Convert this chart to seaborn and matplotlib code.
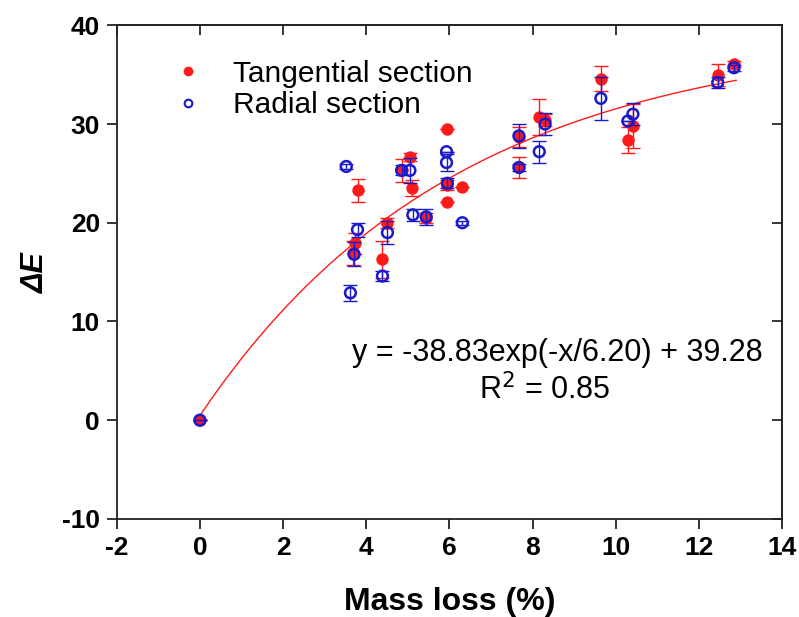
import numpy as np
import pandas as pd
import matplotlib
matplotlib.use("Agg")
import matplotlib.pyplot as plt
import seaborn as sns


# ==============================
# 1. Data
# ==============================

# Tangential section
tan_mass = [0.0, 3.74, 3.69, 3.79, 4.39, 4.51, 4.85, 5.05, 5.10, 5.44,
            5.93, 5.95, 5.95, 6.31, 7.67, 7.67, 8.16, 8.30, 9.64, 10.29,
            10.41, 12.45, 12.84]
tan_dE = [0.0, 17.9, 16.9, 23.3, 16.3, 20.0, 25.3, 26.7, 23.5, 20.5,
          29.5, 23.8, 22.1, 23.6, 28.7, 25.6, 30.7, 30.4, 34.6, 28.4,
          29.8, 35.0, 36.1]
tan_err = [0.0, 1.1, 1.2, 1.15, 1.9, 0.5, 1.2, 0.4, 0.8, 0.5,
           0.0, 0.5, 0.0, 0.0, 1.0, 1.1, 1.8, 0.6, 1.3, 1.3,
           2.2, 1.1, 0.3]

# Radial section
rad_mass = [0.0, 3.52, 3.79, 3.71, 3.62, 4.39, 4.51, 4.85, 5.05, 5.12,
            5.44, 5.93, 5.93, 5.95, 6.31, 7.67, 7.67, 8.16, 8.30, 9.64,
            10.29, 10.41, 12.45, 12.84]
rad_dE = [0.0, 25.7, 19.3, 16.8, 12.9, 14.6, 19.0, 25.3, 25.3, 20.8,
          20.6, 27.2, 26.1, 24.0, 20.0, 28.8, 25.6, 27.2, 30.0, 32.6,
          30.3, 31.0, 34.2, 35.7]
rad_err = [0.0, 0.3, 0.7, 1.2, 0.8, 0.5, 1.2, 0.5, 1.3, 0.6,
           0.8, 0.0, 0.9, 0.5, 0.2, 1.2, 0.4, 1.1, 1.1, 2.2,
           0.0, 1.1, 0.6, 0.3]

# Exponential fit reported on the chart
fit_a, fit_t, fit_c = -38.83, 6.20, 39.28
fit_text = "y = -38.83exp(-x/6.20) + 39.28"
r2_text = "R$^2$ = 0.85"

tan_df = pd.DataFrame({"mass": tan_mass, "dE": tan_dE, "err": tan_err})
rad_df = pd.DataFrame({"mass": rad_mass, "dE": rad_dE, "err": rad_err})

xfit = np.linspace(0, 12.9, 200)
fit_df = pd.DataFrame({"mass": xfit, "dE": fit_a * np.exp(-xfit / fit_t) + fit_c})


# ==============================
# 2. Plot
# ==============================

sns.set_theme(style="ticks")
plt.rcParams["font.family"] = ["Liberation Sans", "DejaVu Sans"]
plt.rcParams["axes.unicode_minus"] = False
plt.rcParams["text.color"] = "black"
plt.rcParams["axes.labelcolor"] = "black"

red = "#ff1a1a"
blue = "#1a1acc"

fig = plt.figure(figsize=(7.99, 6.17), dpi=100)
ax = fig.add_axes([0.146, 0.159, 0.833, 0.800])

sns.lineplot(data=fit_df, x="mass", y="dE", color=red, lw=1.0, ax=ax, zorder=2)

ax.errorbar(tan_df["mass"], tan_df["dE"], yerr=tan_df["err"], fmt="none",
            ecolor=red, elinewidth=1.0, capsize=5, capthick=1.0, zorder=3)
sns.scatterplot(data=tan_df, x="mass", y="dE", color=red, s=80,
                edgecolor=red, linewidth=0, ax=ax, zorder=4)

ax.errorbar(rad_df["mass"], rad_df["dE"], yerr=rad_df["err"], fmt="none",
            ecolor=blue, elinewidth=1.0, capsize=5, capthick=1.0, zorder=5)
ax.scatter(rad_df["mass"], rad_df["dE"], s=60, facecolors="none",
           edgecolors=blue, linewidths=1.8, zorder=6)

# legend
h1 = plt.Line2D([], [], ls="none", marker="o", ms=6, color=red)
h2 = plt.Line2D([], [], ls="none", marker="o", ms=5.5, mfc="none",
                mec=blue, mew=1.5)
ax.legend([h1, h2], ["Tangential section", "Radial section"],
          loc="upper left", bbox_to_anchor=(0.045, 0.985), frameon=False,
          fontsize=21.5, handlelength=1.0, handletextpad=1.0, labelspacing=0.12)

ax.text(8.6, 6.8, fit_text, fontsize=22, ha="center", va="center")
ax.text(8.3, 3.0, r2_text, fontsize=22, ha="center", va="center")

ax.set_xlim(-2, 14)
ax.set_ylim(-10, 40)
ax.set_xticks(np.arange(-2, 15, 2))
ax.set_yticks(np.arange(-10, 41, 10))

ax.set_xlabel("Mass loss (%)", fontsize=23, fontweight="bold", labelpad=20)
ax.set_ylabel("ΔE", fontsize=22, fontweight="bold", fontstyle="italic",
              labelpad=8)

for spine in ax.spines.values():
    spine.set_visible(True)
    spine.set_linewidth(1.3)
    spine.set_color("#222222")

ax.tick_params(direction="out", length=7, width=1.3, labelsize=19,
               colors="#222222", labelcolor="black", pad=5)
for lab in ax.get_xticklabels() + ax.get_yticklabels():
    lab.set_fontweight("bold")

top = ax.secondary_xaxis("top")
top.set_xticks(np.arange(-2, 15, 2))
top.tick_params(direction="in", length=7, width=1.3, labeltop=False)
right = ax.secondary_yaxis("right")
right.set_yticks(np.arange(-10, 41, 10))
right.tick_params(direction="in", length=7, width=1.3, labelright=False)

plt.savefig("out.png", dpi=100)
plt.close()
